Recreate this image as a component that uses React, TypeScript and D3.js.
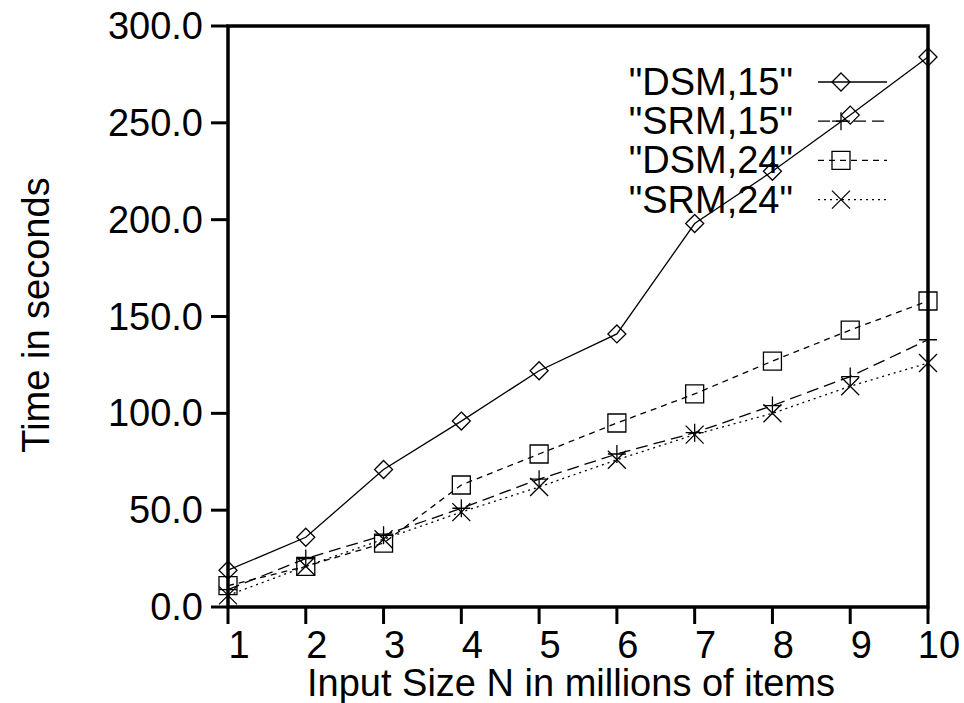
import React from 'react';
import * as d3 from 'd3';

// values (seconds)
const sizes = [1, 2, 3, 4, 5, 6, 7, 8, 9, 10];
const dsm15 = [19, 36, 71, 96, 122, 141, 198, 225, 254, 284];
const srm15 = [9, 25, 37, 51, 66, 79, 90, 104, 119, 138];
const dsm24 = [11, 21, 33, 63, 79, 95, 110, 127, 143, 158];
const srm24 = [6, 21, 35, 49, 62, 76, 89, 100, 114, 126];
const seriesNames = ['"DSM,15"', '"SRM,15"', '"DSM,24"', '"SRM,24"'];
const yTicks = [0, 50, 100, 150, 200, 250, 300];

const FONT = '"Liberation Sans", Arial, Helvetica, sans-serif';
const FS = 38;

function marker(kind: string, cx: number, cy: number, r = 9)
{
    if (kind === 'diamond')
        return `M${cx},${cy - r}L${cx + r},${cy}L${cx},${cy + r}L${cx - r},${cy}Z`;
    if (kind === 'plus')
        return `M${cx - r},${cy}H${cx + r}M${cx},${cy - r}V${cy + r}`;
    if (kind === 'square')
        return `M${cx - r},${cy - r}H${cx + r}V${cy + r}H${cx - r}Z`;
    return `M${cx - r},${cy - r}L${cx + r},${cy + r}M${cx - r},${cy + r}L${cx + r},${cy - r}`;
}

export default function App()
{
    const width = 964;
    const height = 703;
    const left = 228, right = 928, top = 26, bottom = 607;

    const x = d3.scaleLinear().domain([1, 10]).range([left, right]);
    const y = d3.scaleLinear().domain([0, 300]).range([bottom, top]);

    const series = [
        {name: seriesNames[0], values: dsm15, kind: 'diamond', dash: 'none'},
        {name: seriesNames[1], values: srm15, kind: 'plus', dash: '12,6'},
        {name: seriesNames[2], values: dsm24, kind: 'square', dash: '6,5'},
        {name: seriesNames[3], values: srm24, kind: 'cross', dash: '2,4'}
    ];

    const line = d3.line<number>()
        .x((d, i) => x(sizes[i]))
        .y(d => y(d));

    const fmt = d3.format('.1f');

    return (
        <svg width={width} height={height}
             style={{position: 'absolute', left: 0, top: 0, background: '#fff'}}>
            <g fontFamily={FONT} fontSize={FS} fill="#000">
                {/* y ticks */}
                {yTicks.map(t => (
                    <g key={'y' + t}>
                        <line x1={left - 17} x2={left} y1={y(t)} y2={y(t)}
                              stroke="#000" strokeWidth={3}/>
                        <text x={left - 25} y={y(t)} textAnchor="end"
                              dominantBaseline="central">{fmt(t)}</text>
                    </g>
                ))}
                {/* x ticks */}
                {sizes.map(s => (
                    <g key={'x' + s}>
                        <line x1={x(s)} x2={x(s)} y1={bottom} y2={bottom + 17}
                              stroke="#000" strokeWidth={3}/>
                        <text x={x(s) + 11} y={bottom + 51}
                              textAnchor="middle">{s}</text>
                    </g>
                ))}
                <text x={571} y={696} textAnchor="middle">
                    Input Size N in millions of items
                </text>
                <text transform="translate(49,315) rotate(-90)" textAnchor="middle">
                    Time in seconds
                </text>
            </g>

            {/* frame */}
            <rect x={left} y={top} width={right - left} height={bottom - top}
                  fill="none" stroke="#000" strokeWidth={3.5}/>

            {/* data */}
            {series.map(s => (
                <g key={s.name} fill="none" stroke="#000" strokeWidth={1.3}>
                    <path d={line(s.values) || ''} strokeDasharray={s.dash}/>
                    {s.values.map((v, i) => (
                        <path key={i} d={marker(s.kind, x(sizes[i]), y(v))}/>
                    ))}
                </g>
            ))}

            {/* legend */}
            {series.map((s, i) => {
                const ly = 82 + i * 39.2;
                return (
                    <g key={'l' + s.name}>
                        <text x={793} y={ly} textAnchor="end" dominantBaseline="central"
                              fontFamily={FONT} fontSize={FS}>{s.name}</text>
                        <line x1={818} x2={887} y1={ly} y2={ly} stroke="#000"
                              strokeWidth={1.3} strokeDasharray={s.dash}/>
                        <path d={marker(s.kind, 841, ly)} fill="none" stroke="#000"
                              strokeWidth={1.3}/>
                    </g>
                );
            })}
        </svg>
    );
}
